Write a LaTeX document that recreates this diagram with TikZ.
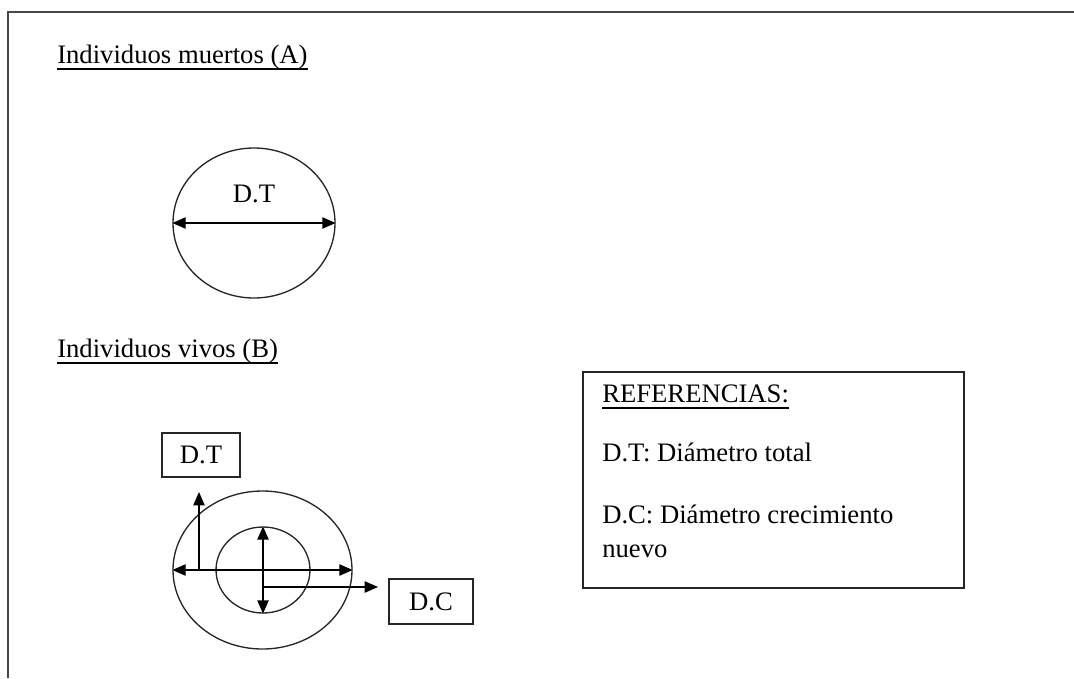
\documentclass[tikz,border=0pt]{standalone}
\usepackage{fontspec}
\setmainfont{Liberation Serif}
\usetikzlibrary{arrows.meta,shapes.geometric}
\tikzset{
  txt/.style={inner sep=0pt, anchor=base west, font=\fontsize{20}{24}\selectfont},
  lbl/.style={inner sep=0pt, font=\fontsize{20}{24}\selectfont},
  shape line/.style={line width=1pt, draw=black!85},
  box/.style={draw, line width=1pt, draw=black!85, rectangle, inner sep=0pt},
  arr/.style={line width=1pt, -{Triangle[length=10pt,width=8.5pt]}},
  darr/.style={line width=1pt, {Triangle[length=10pt,width=8.5pt]}-{Triangle[length=10pt,width=8.5pt]}},
  ul/.style={line width=0.9pt}
}
\begin{document}
\begin{tikzpicture}[x=0.75pt,y=-0.75pt]
\useasboundingbox (0,0) rectangle (1074,678);
% frame (only top and left edges visible)
\draw[line width=1.3pt, draw=black!72] (8,678) -- (8,12) -- (1074,12);

% Part A
\node[txt] (tA) at (57,63) {Individuos muertos (A)};
\draw[ul] ([yshift=-4.5pt]tA.base west) -- ([yshift=-4.5pt]tA.base east);
\node[shape line, ellipse, inner sep=0pt, minimum width=121.5pt, minimum height=112.5pt] (cA) at (254,223) {};
\draw[darr] (cA.west) -- (cA.east);
\node[lbl] (dtA) at (254,194) {D.T};

% Part B
\node[txt] (tB) at (57,357) {Individuos vivos (B)};
\draw[ul] ([yshift=-4.5pt]tB.base west) -- ([yshift=-4.5pt]tB.base east);

\node[box, minimum width=58.5pt, minimum height=33pt, lbl] (bDT) at (201,455) {D.T};
\node[box, minimum width=63pt, minimum height=33.75pt, lbl] (bDC) at (431,601.5) {D.C};

\node[shape line, ellipse, inner sep=0pt, minimum width=134.25pt, minimum height=118.5pt] (cB) at (262.5,570) {};
\node[shape line, ellipse, inner sep=0pt, minimum width=70.5pt, minimum height=64.5pt] (cI) at (263,570) {};
\draw[darr] (cB.west) -- (cB.east);
\draw[darr] (cI.north) -- (cI.south);
\coordinate (upS) at (199,570);
\coordinate (upE) at (199,492);
\draw[arr] (upS) -- (upE);
\coordinate (rS) at (263,587);
\coordinate (rE) at (378,587);
\draw[arr] (rS) -- (rE);

% References box
\node[box, minimum width=285.75pt, minimum height=162pt] (ref) at (773.5,480) {};
\node[txt] (r0) at (602,402) {REFERENCIAS:};
\draw[ul] ([yshift=-4.5pt]r0.base west) -- ([yshift=-4.5pt]r0.base east);
\node[txt] (r1) at (602,461) {D.T: Diámetro total};
\node[txt] (r2) at (602,523) {D.C: Diámetro crecimiento};
\node[txt] (r3) at (602,557) {nuevo};
\end{tikzpicture}
\end{document}
